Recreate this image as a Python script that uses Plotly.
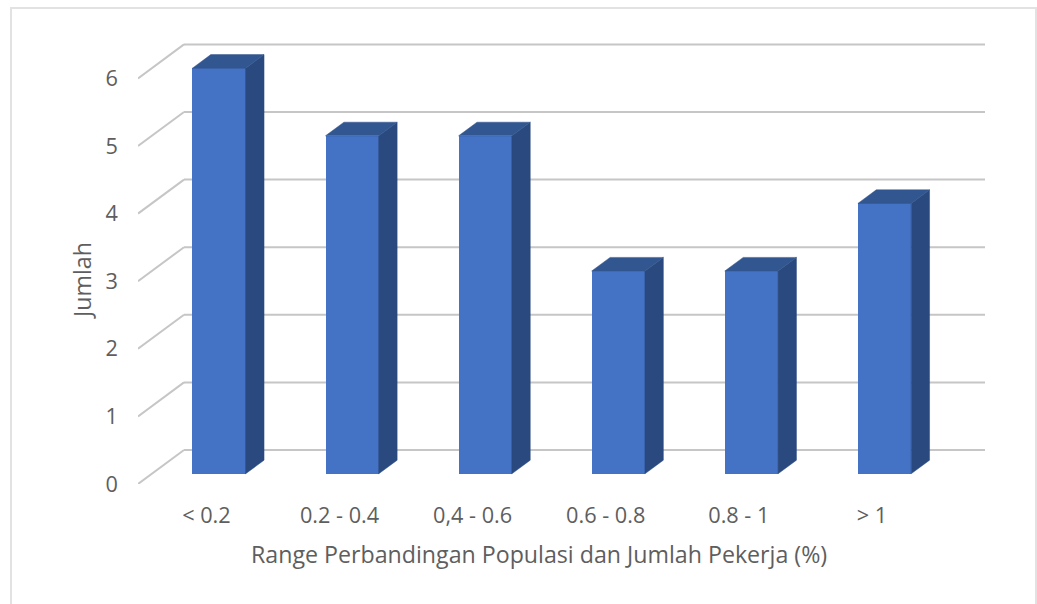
import plotly.graph_objects as go

categories = ["< 0.2", "0.2 - 0.4", "0,4 - 0.6", "0.6 - 0.8", "0.8 - 1", "> 1"]
values = [6, 5, 5, 3, 3, 4]
y_ticks = [0, 1, 2, 3, 4, 5, 6]
x_title = "Range Perbandingan Populasi dan Jumlah Pekerja (%)"
y_title = "Jumlah"

W, H = 1037, 604
L, R, T, B = 138, 985, 43, 484
X_UNIT, Y_UNIT = 133.1, 67.6
DX, DY = 46 / X_UNIT, 34 / Y_UNIT   # full depth of the oblique floor in axis units
FRONT, BACK = 0.30, 0.70            # bar position within that depth
BAR_W = 0.40
BAR_NUDGE = 0.005
LABEL_NUDGE = 0.014
TEXT = "#5E5E5E"
FONT = "Open Sans"
TICK_SIZE = 21.7
TITLE_SIZE = 23.2
x_min = -0.5
x_max = x_min + (R - L) / X_UNIT
y_max = (B - T) / Y_UNIT

xs = list(range(len(categories)))
fig = go.Figure()

# Front faces
fig.add_trace(go.Bar(
    x=[i + FRONT * DX + BAR_NUDGE for i in xs], y=values, base=FRONT * DY, width=BAR_W,
    marker=dict(color="#4472C4", line=dict(width=0)),
    hoverinfo="skip", showlegend=False, cliponaxis=False,
))

# Side and top faces
side_x, side_y, top_x, top_y = [], [], [], []
for i, v in zip(xs, values):
    fl = i - BAR_W / 2 + FRONT * DX + BAR_NUDGE
    fr = i + BAR_W / 2 + FRONT * DX + BAR_NUDGE
    bl = i - BAR_W / 2 + BACK * DX + BAR_NUDGE
    br = i + BAR_W / 2 + BACK * DX + BAR_NUDGE
    f0, f1 = FRONT * DY, v + FRONT * DY
    b0, b1 = BACK * DY, v + BACK * DY
    side_x += [fr, br, br, fr, fr, None]
    side_y += [f0, b0, b1, f1, f0, None]
    top_x += [fl, bl, br, fr, fl, None]
    top_y += [f1, b1, b1, f1, f1, None]
fig.add_trace(go.Scatter(x=side_x, y=side_y, mode="lines", fill="toself", fillcolor="#2A4A7F",
                         line=dict(color="#2A4A7F", width=0.5), hoverinfo="skip", showlegend=False))
fig.add_trace(go.Scatter(x=top_x, y=top_y, mode="lines", fill="toself", fillcolor="#32568F",
                         line=dict(color="#32568F", width=0.5), hoverinfo="skip", showlegend=False))

# Wall and back gridlines, under the bars
shapes = []
for v in y_ticks:
    shapes.append(dict(type="line", xref="x", yref="y", layer="below", x0=x_min, y0=v,
                       x1=x_min + DX, y1=v + DY, line=dict(color="#C6C6C6", width=2)))
    shapes.append(dict(type="line", xref="x", yref="y", layer="below", x0=x_min + DX, y0=v + DY,
                       x1=x_max, y1=v + DY, line=dict(color="#C6C6C6", width=2)))

# Chart frame, open at the bottom like the reference crop
pw, ph = R - L, B - T
def px(p): return (p - L) / pw
def py(p): return (B - p) / ph
shapes.append(dict(
    type="path", xref="paper", yref="paper", layer="below",
    path=f"M {px(11)} {py(606)} L {px(11)} {py(8)} L {px(1036)} {py(8)} L {px(1036)} {py(606)}",
    line=dict(color="#E2E2E2", width=2),
))

fig.update_layout(
    width=W, height=H, autosize=False,
    margin=dict(l=L, r=W - R, t=T, b=H - B),
    paper_bgcolor="white", plot_bgcolor="rgba(0,0,0,0)",
    shapes=shapes, bargap=0,
    font=dict(family=FONT, color=TEXT, size=TICK_SIZE),
    xaxis=dict(range=[x_min, x_max], tickmode="array", tickvals=[i + LABEL_NUDGE for i in xs], ticktext=categories,
               showgrid=False, zeroline=False, showline=False, ticks="",
               ticklabelstandoff=16, tickfont=dict(size=TICK_SIZE, color=TEXT, family=FONT)),
    yaxis=dict(range=[0, y_max], tickmode="array", tickvals=y_ticks, ticktext=[str(t) for t in y_ticks],
               showgrid=False, zeroline=False, showline=False, ticks="",
               ticklabelstandoff=19, tickfont=dict(size=TICK_SIZE, color=TEXT, family=FONT)),
    annotations=[
        dict(text=x_title, xref="paper", yref="paper", x=px(539), y=py(554), showarrow=False,
             xanchor="center", yanchor="middle", font=dict(size=TITLE_SIZE, color=TEXT, family=FONT)),
        dict(text=y_title, xref="paper", yref="paper", x=px(82), y=py(281), showarrow=False, textangle=-90,
             xanchor="center", yanchor="middle", font=dict(size=TITLE_SIZE, color=TEXT, family=FONT)),
    ],
)
fig.write_html("out.html", config={"displayModeBar": False},
               post_script="document.body.style.margin='0';document.body.style.overflow='hidden';")
